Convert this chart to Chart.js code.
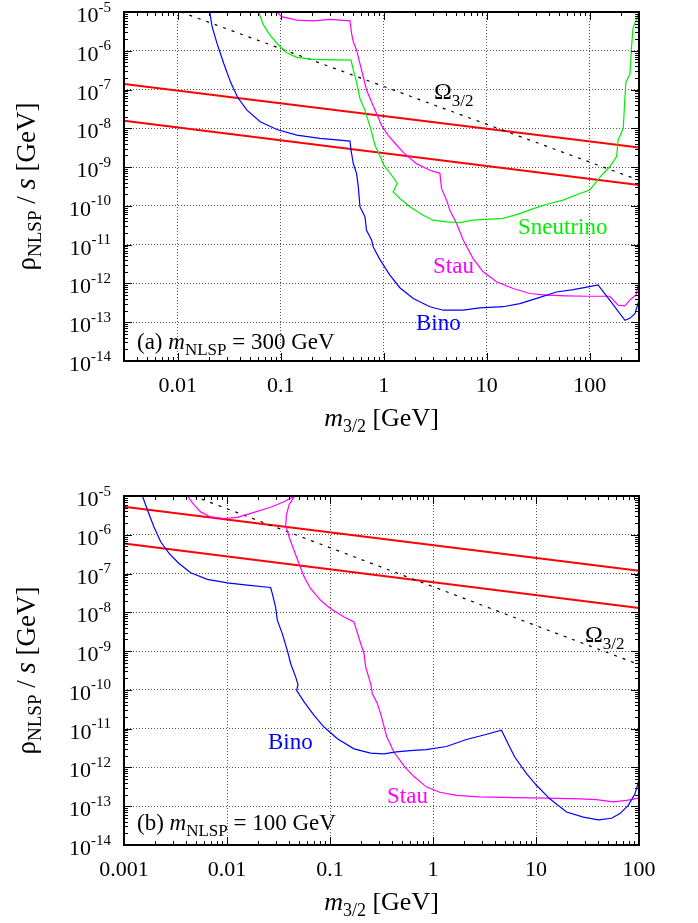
<!DOCTYPE html>
<html><head><meta charset="utf-8">
<script src="https://cdn.jsdelivr.net/npm/chart.js@4/dist/chart.umd.min.js"></script>
<style>
html,body{margin:0;padding:0;background:#fff;}
#wrap{position:relative;width:698px;height:923px;overflow:hidden;}
canvas{position:absolute;left:0;}
</style></head><body>
<div id="wrap">
<canvas id="c1" width="698" height="462" style="top:0px"></canvas>
<canvas id="c2" width="698" height="461" style="top:462px"></canvas>
</div>
<script>
// ---------- axis ranges & tick labels ----------
const yRange = [1e-14, 1e-5];
const yTicks = [1e-5,1e-6,1e-7,1e-8,1e-9,1e-10,1e-11,1e-12,1e-13,1e-14];
const yTickExps = ['-5','-6','-7','-8','-9','-10','-11','-12','-13','-14'];
const aXRange = [0.003, 300];
const aXTicks = [0.01, 0.1, 1, 10, 100];
const aXTickLabels = ['0.01','0.1','1','10','100'];
const bXRange = [0.001, 100];
const bXTicks = [0.001, 0.01, 0.1, 1, 10, 100];
const bXTickLabels = ['0.001','0.01','0.1','1','10','100'];

// ---------- panel (a): m_NLSP = 300 GeV ----------
const aBinoM = [0.0204,0.0215,0.0240,0.0279,0.0324,0.0380,0.0468,0.0631,0.0914,0.143,0.240,0.469,0.480,0.505,0.543,0.565,0.586,0.655,0.679,0.760,0.789,0.914,1.14,1.43,1.93,2.80,3.77,5.89,8.51,14.4,20.9,32.7,47.4,68.9,96.4,120,156,219,244,274,300];
const aBinoRho = [1e-5,4.17e-6,1.55e-6,4.68e-7,1.58e-7,6.31e-8,2.95e-8,1.48e-8,9.33e-9,6.68e-9,5.50e-9,4.68e-9,2.75e-9,1.24e-9,6.92e-10,3.09e-10,9.55e-11,5.25e-11,2.34e-11,1.32e-11,8.71e-12,4.17e-12,1.66e-12,7.76e-13,4.07e-13,2.51e-13,2.04e-13,2.04e-13,2.34e-13,2.51e-13,3.02e-13,4.37e-13,6.03e-13,6.92e-13,8.13e-13,9.12e-13,3.72e-13,1.12e-13,1.26e-13,1.66e-13,3.72e-13];
const aSneuM = [0.0608,0.0679,0.0789,0.0948,0.114,0.143,0.207,0.480,0.505,0.543,0.586,0.655,0.760,0.818,0.914,1.0,1.19,1.35,1.23,1.43,1.79,2.41,3.01,4.06,5.47,7.36,9.93,14.4,20.9,28.2,40.7,55.0,80.0,100,126,156,182,188,211,219,224,245,254,263,282,299];
const aSneuRho = [1e-5,4.57e-6,2.51e-6,1.41e-6,8.91e-7,6.76e-7,6.03e-7,5.75e-7,3.16e-7,1.58e-7,5.89e-8,2.95e-8,8.13e-9,3.72e-9,2.0e-9,1.12e-9,6.17e-10,3.80e-10,2.29e-10,1.55e-10,9.55e-11,5.75e-11,4.27e-11,3.89e-11,3.72e-11,4.27e-11,4.47e-11,4.79e-11,6.31e-11,8.51e-11,1.15e-10,1.41e-10,2.09e-10,2.57e-10,5.62e-10,1.02e-9,1.86e-9,5.01e-9,1.0e-8,6.31e-8,1.58e-7,2.51e-7,1.26e-6,3.98e-6,6.31e-6,1e-5];
const aStauM = [0.0914,0.102,0.143,0.207,0.300,0.469,0.486,0.505,0.543,0.586,0.631,0.679,0.760,0.849,0.948,1.10,1.33,1.54,2.07,2.80,3.50,3.63,4.06,4.38,5.07,5.89,7.36,9.20,12.4,18.0,26.1,37.9,59.3,94.2,156,188,219,244,280,299];
const aStauRho = [1e-5,7.59e-6,6.17e-6,5.89e-6,6.46e-6,5.89e-6,2.82e-6,1.70e-6,1.05e-6,4.68e-7,2.14e-7,9.77e-8,4.79e-8,2.40e-8,1.20e-8,6.61e-9,3.72e-9,2.40e-9,1.23e-9,8.32e-10,6.92e-10,2.82e-10,1.41e-10,7.76e-11,3.55e-11,1.32e-11,4.37e-12,2.0e-12,1.10e-12,7.41e-13,5.50e-13,5.01e-13,4.79e-13,4.68e-13,4.68e-13,2.75e-13,2.63e-13,3.72e-13,5.01e-13,1e-12];
const aRedHiM = [0.003, 300];
const aRedHiRho = [1.39e-7, 3.2e-9];
const aRedLoM = [0.003, 300];
const aRedLoRho = [1.57e-8, 3.46e-10];
const aOmegaM = [0.0107, 300];
const aOmegaRho = [1e-5, 4.6e-10];

// ---------- panel (b): m_NLSP = 100 GeV ----------
const bBinoM = [0.00151,0.00169,0.00195,0.00227,0.00274,0.00342,0.00444,0.00644,0.0101,0.0157,0.0265,0.0275,0.0296,0.0308,0.0344,0.0385,0.0415,0.0465,0.0489,0.0474,0.0560,0.0700,0.0875,0.118,0.171,0.248,0.334,0.440,0.640,0.861,1.35,2.11,3.06,4.62,5.36,6.22,8.09,10.1,13.6,19.8,28.8,40.3,54.2,65.3,78.7,91.4,100];
const bBinoRho = [1e-5,4.37e-6,1.62e-6,6.61e-7,3.31e-7,1.82e-7,1.05e-7,7.08e-8,5.75e-8,5.01e-8,4.37e-8,3.09e-8,1.38e-8,6.31e-9,2.82e-9,1.05e-9,4.79e-10,2.14e-10,1.38e-10,9.77e-11,4.90e-11,2.19e-11,1.10e-11,5.50e-12,3.02e-12,2.34e-12,2.24e-12,2.51e-12,2.75e-12,2.88e-12,3.47e-12,5.25e-12,6.76e-12,9.12e-12,4.07e-12,1.86e-12,6.92e-13,3.47e-13,1.55e-13,7.08e-14,5.25e-14,4.47e-14,4.90e-14,6.46e-14,1.05e-13,2.09e-13,4.79e-13];
const bStauM = [0.00412,0.00479,0.00555,0.00693,0.00935,0.0126,0.0170,0.0265,0.0357,0.0454,0.0400,0.0377,0.0372,0.0400,0.0447,0.0500,0.0560,0.0649,0.0811,0.101,0.137,0.171,0.177,0.199,0.214,0.222,0.248,0.258,0.288,0.310,0.355,0.417,0.537,0.646,0.861,1.16,1.69,2.84,6.0,12.6,26.7,38.7,56.2,75.9,100];
const bStauRho = [1e-5,5.89e-6,3.89e-6,2.88e-6,2.63e-6,2.82e-6,3.55e-6,5.13e-6,7.08e-6,1e-5,5.89e-6,3.24e-6,1.78e-6,8.91e-7,3.98e-7,1.82e-7,8.32e-8,4.07e-8,2.04e-8,1.26e-8,7.59e-9,5.62e-9,4.17e-9,1.55e-9,8.71e-10,3.89e-10,1.45e-10,7.94e-11,4.47e-11,2.45e-11,6.3e-12,2.5e-12,1.0e-12,6.0e-13,3.16e-13,2.29e-13,1.91e-13,1.74e-13,1.66e-13,1.62e-13,1.55e-13,1.48e-13,1.29e-13,1.41e-13,1.62e-13];
const bRedHiM = [0.001, 100];
const bRedHiRho = [5.3e-6, 1.18e-7];
const bRedLoM = [0.001, 100];
const bRedLoRho = [6.0e-7, 1.29e-8];
const bOmegaM = [0.0047, 100];
const bOmegaRho = [1e-5, 4.5e-10];

// ---------- styling ----------
const SERIF = '"Liberation Serif","Times New Roman",serif';
const BLUE = '#0000ff', GREEN = '#00ee00', MAGENTA = '#ff00ff', RED = '#ff0000';

function pts(xs, ys) { return xs.map((x, i) => ({x: x, y: ys[i]})); }
function ds(label, xs, ys, color, width, dash) {
  return {label: label, data: pts(xs, ys), borderColor: color, backgroundColor: color,
    borderWidth: width, borderDash: dash || [], pointRadius: 0, fill: false, tension: 0};
}

function fontStr(s) { return (s.italic ? 'italic ' : '') + s.size + 'px ' + SERIF; }
function drawRich(ctx, x, y, segs, align, color) {
  let w = 0;
  segs.forEach(s => { ctx.font = fontStr(s); s.w = ctx.measureText(s.t).width; w += s.w; });
  let cx = align === 'center' ? x - w / 2 : (align === 'right' ? x - w : x);
  ctx.textAlign = 'left'; ctx.textBaseline = 'alphabetic';
  ctx.fillStyle = color || '#000';
  segs.forEach(s => { ctx.font = fontStr(s); ctx.fillText(s.t, cx, y + (s.dy || 0)); cx += s.w; });
}

function decoPlugin(cfg) {
  return {
    id: 'deco' + cfg.name,
    afterDraw(chart) {
      const ctx = chart.ctx, a = chart.chartArea, xs = chart.scales.x, ys = chart.scales.y;
      ctx.save();
      // inward tick marks on all four sides
      ctx.strokeStyle = '#000'; ctx.lineWidth = 1; ctx.setLineDash([]);
      ctx.beginPath();
      for (let e = -16; e <= 4; e++) {
        for (let k = 1; k <= 9; k++) {
          const v = k * Math.pow(10, e);
          const len = k === 1 ? 8 : 4;
          if (v >= cfg.xRange[0] * 0.9999 && v <= cfg.xRange[1] * 1.0001) {
            const px = Math.round(xs.getPixelForValue(v)) + 0.5;
            ctx.moveTo(px, a.bottom); ctx.lineTo(px, a.bottom - len);
            ctx.moveTo(px, a.top); ctx.lineTo(px, a.top + len);
          }
          if (v >= yRange[0] * 0.9999 && v <= yRange[1] * 1.0001) {
            const py = Math.round(ys.getPixelForValue(v)) + 0.5;
            ctx.moveTo(a.left, py); ctx.lineTo(a.left + len, py);
            ctx.moveTo(a.right, py); ctx.lineTo(a.right - len, py);
          }
        }
      }
      ctx.stroke();
      // frame
      ctx.lineWidth = 2;
      ctx.strokeRect(a.left, a.top, a.right - a.left, a.bottom - a.top);

      // y tick labels 10^n
      yTicks.forEach((v, i) => {
        const py = ys.getPixelForValue(v);
        const s1 = {t: '10', size: 22}, s2 = {t: yTickExps[i], size: 15};
        ctx.font = fontStr(s1); const w1 = ctx.measureText('10').width;
        ctx.font = fontStr(s2); const w2 = ctx.measureText(s2.t).width;
        const x0 = a.left - 13 - w1 - w2;
        ctx.fillStyle = '#000'; ctx.textAlign = 'left'; ctx.textBaseline = 'alphabetic';
        ctx.font = fontStr(s1); ctx.fillText('10', x0, py + 10);
        ctx.font = fontStr(s2); ctx.fillText(s2.t, x0 + w1, py - 0.5);
      });
      // x tick labels
      cfg.xTicks.forEach((v, i) => {
        const px = xs.getPixelForValue(v);
        drawRich(ctx, px, a.bottom + 31, [{t: cfg.xTickLabels[i], size: 22}], 'center');
      });
      // x title
      drawRich(ctx, (a.left + a.right) / 2, a.bottom + 65,
        [{t: 'm', size: 26, italic: true}, {t: '3/2', size: 18, dy: 6}, {t: ' [GeV]', size: 26}], 'center');
      // y title (rotated)
      ctx.save();
      ctx.translate(35, (a.top + a.bottom) / 2);
      ctx.rotate(-Math.PI / 2);
      drawRich(ctx, 0, 0, [{t: 'ρ', size: 27}, {t: 'NLSP', size: 19, dy: 6}, {t: ' / ', size: 27},
        {t: 's', size: 29, italic: true}, {t: ' [GeV]', size: 27}], 'center');
      ctx.restore();
      // annotations
      cfg.notes.forEach(n => drawRich(ctx, n.x, n.y, n.segs, 'left', n.color));
      ctx.restore();
    }
  };
}

function makeChart(id, cfg) {
  return new Chart(document.getElementById(id), {
    type: 'line',
    data: {datasets: cfg.datasets},
    options: {
      responsive: false, animation: false, devicePixelRatio: 1,
      layout: {padding: cfg.padding},
      plugins: {legend: {display: false}, tooltip: {enabled: false}},
      scales: {
        x: {type: 'logarithmic', min: cfg.xRange[0], max: cfg.xRange[1],
          afterBuildTicks: s => { s.ticks = cfg.xTicks.map(v => ({value: v})); },
          ticks: {display: false},
          grid: {color: '#555', lineWidth: 1, drawTicks: false},
          border: {display: false, dash: [1, 2]}},
        y: {type: 'logarithmic', min: yRange[0], max: yRange[1],
          afterBuildTicks: s => { s.ticks = yTicks.map(v => ({value: v})); },
          ticks: {display: false},
          grid: {color: '#555', lineWidth: 1, drawTicks: false},
          border: {display: false, dash: [1, 2]}}
      }
    },
    plugins: [decoPlugin(cfg)]
  });
}

const OMEGA = 'Ω';
makeChart('c1', {
  name: 'A', xRange: aXRange, xTicks: aXTicks, xTickLabels: aXTickLabels,
  padding: {left: 124, right: 59, top: 12, bottom: 101},
  datasets: [
    ds('Bino', aBinoM, aBinoRho, BLUE, 1.2),
    ds('Sneutrino', aSneuM, aSneuRho, GREEN, 1.2),
    ds('Stau', aStauM, aStauRho, MAGENTA, 1.2),
    ds('Omega', aOmegaM, aOmegaRho, '#000', 1.2, [3, 6]),
    ds('Bound high', aRedHiM, aRedHiRho, RED, 2),
    ds('Bound low', aRedLoM, aRedLoRho, RED, 2)
  ],
  notes: [
    {x: 434, y: 99, color: '#000', segs: [{t: OMEGA, size: 24}, {t: '3/2', size: 17, dy: 7}]},
    {x: 518, y: 234, color: GREEN, segs: [{t: 'Sneutrino', size: 23}]},
    {x: 433, y: 273, color: MAGENTA, segs: [{t: 'Stau', size: 23}]},
    {x: 416, y: 330, color: BLUE, segs: [{t: 'Bino', size: 23}]},
    {x: 137, y: 349, color: '#000', segs: [{t: '(a) ', size: 23}, {t: 'm', size: 23, italic: true},
      {t: 'NLSP', size: 17, dy: 6}, {t: ' = 300 GeV', size: 23}]}
  ]
});

makeChart('c2', {
  name: 'B', xRange: bXRange, xTicks: bXTicks, xTickLabels: bXTickLabels,
  padding: {left: 124, right: 59, top: 34, bottom: 78},
  datasets: [
    ds('Bino', bBinoM, bBinoRho, BLUE, 1.2),
    ds('Stau', bStauM, bStauRho, MAGENTA, 1.2),
    ds('Omega', bOmegaM, bOmegaRho, '#000', 1.2, [3, 6]),
    ds('Bound high', bRedHiM, bRedHiRho, RED, 2),
    ds('Bound low', bRedLoM, bRedLoRho, RED, 2)
  ],
  notes: [
    {x: 585, y: 642 - 462, color: '#000', segs: [{t: OMEGA, size: 24}, {t: '3/2', size: 17, dy: 7}]},
    {x: 268, y: 749 - 462, color: BLUE, segs: [{t: 'Bino', size: 23}]},
    {x: 387, y: 803 - 462, color: MAGENTA, segs: [{t: 'Stau', size: 23}]},
    {x: 137, y: 830 - 462, color: '#000', segs: [{t: '(b) ', size: 23}, {t: 'm', size: 23, italic: true},
      {t: 'NLSP', size: 17, dy: 6}, {t: ' = 100 GeV', size: 23}]}
  ]
});
</script>
</body></html>
